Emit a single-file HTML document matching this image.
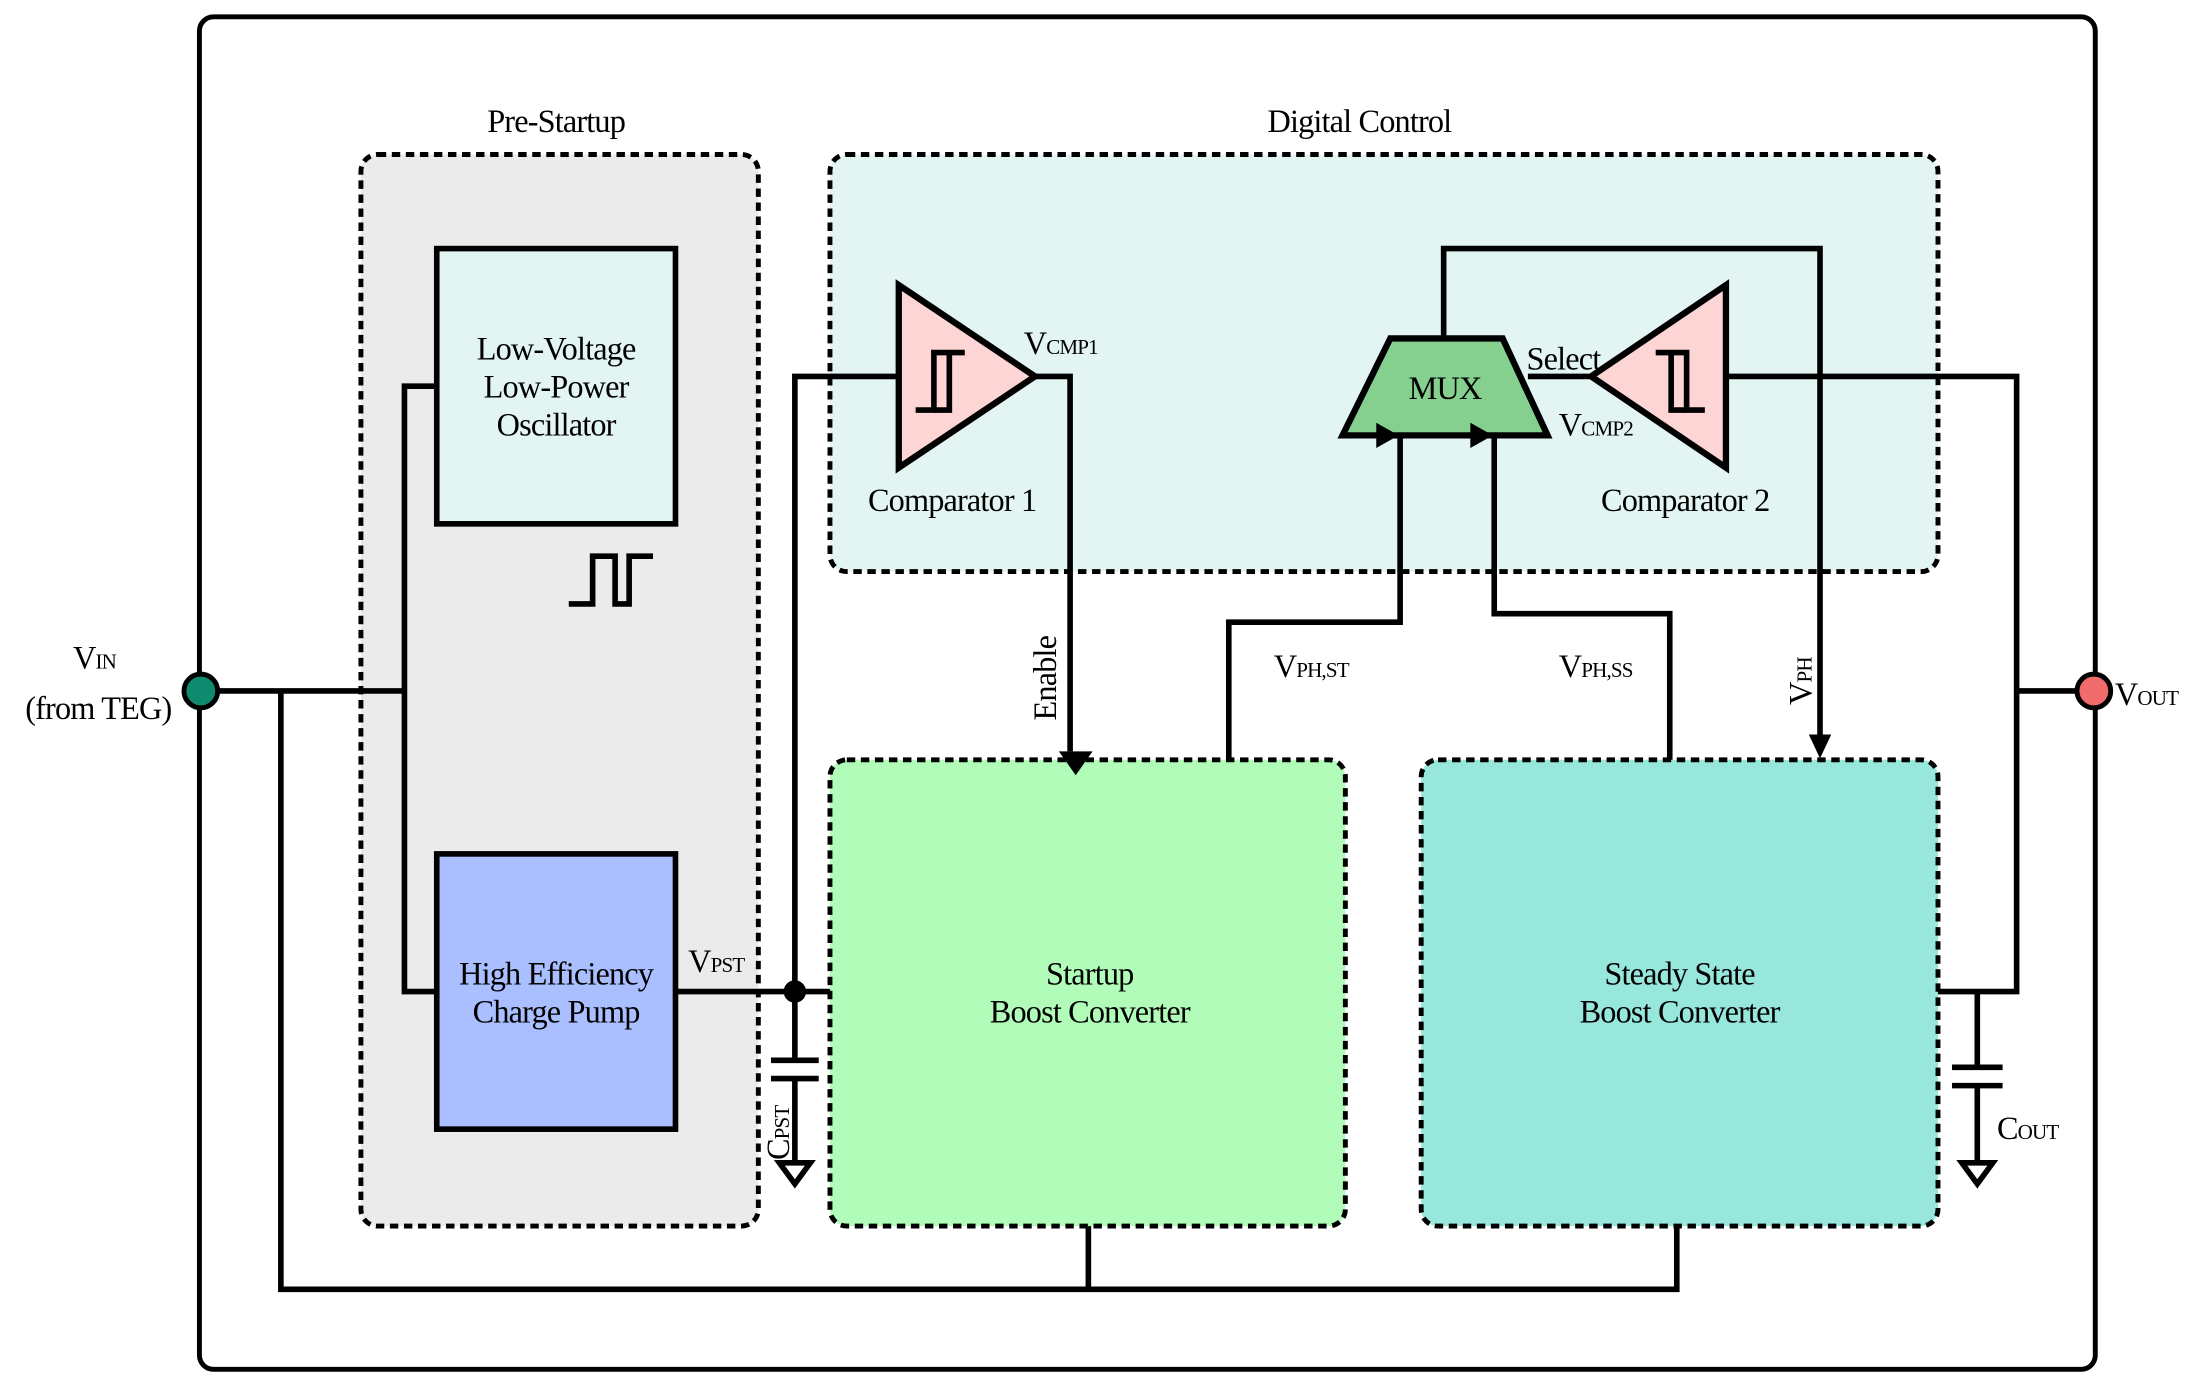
<!DOCTYPE html>
<html><head><meta charset="utf-8"><style>
html,body{margin:0;padding:0;background:#fff;}
svg{display:block;}
</style></head><body>
<svg width="2202" height="1396" viewBox="0 0 1568 994" preserveAspectRatio="none" xmlns="http://www.w3.org/2000/svg">
<g stroke="#000" stroke-width="4" fill="none">
<rect x="142" y="12" width="1350" height="963" rx="10" stroke-width="3.5"/>
<g stroke-dasharray="6,4" stroke-width="3.5">
<rect x="257" y="110" width="283" height="763" rx="12" fill="#ebebeb"/>
<rect x="591" y="110" width="789" height="297" rx="12" fill="#e2f5f2"/>
<rect x="591" y="541" width="367" height="332" rx="12" fill="#b0fcb8"/>
<rect x="1012" y="541" width="368" height="332" rx="12" fill="#97e7dd"/>
</g>
<rect x="311" y="177" width="170" height="196" fill="#e2f5f2"/>
<rect x="311" y="608" width="170" height="196" fill="#a9bfff"/>
<polyline points="405,430 422,430 422,396 438,396 438,430 448,430 448,396 465,396"/>
<polyline points="155,492 288,492"/>
<polyline points="311,275 288,275 288,706 311,706"/>
<polyline points="200,492 200,918 1194,918 1194,873"/>
<line x1="775" y1="918" x2="775" y2="873"/>
<line x1="481" y1="706" x2="591" y2="706"/>
<polyline points="640,268 566,268 566,755"/>
<line x1="549" y1="755" x2="583" y2="755"/>
<line x1="549" y1="768" x2="583" y2="768"/>
<line x1="566" y1="768" x2="566" y2="828"/>
<polygon points="555,828 577,828 566,843"/>
<polygon points="640,203 640,333 737,268" fill="#fdd5d5" stroke-width="4.5"/>
<polyline points="652,292 665,292 665,251 687,251" />
<polyline points="676,251 676,292 665,292"/>
<polyline points="737,268 762,268 762,535"/>
<polygon points="1229,203 1229,333 1133,268" fill="#fdd5d5" stroke-width="4.5"/>
<polyline points="1214,292 1201,292 1201,251 1179,251"/>
<polyline points="1190,251 1190,292 1201,292"/>
<polyline points="1229,268 1436,268 1436,706 1380,706"/>
<line x1="1436" y1="492" x2="1479" y2="492"/>
<line x1="1408" y1="706" x2="1408" y2="760"/>
<line x1="1390" y1="760" x2="1426" y2="760"/>
<line x1="1390" y1="773" x2="1426" y2="773"/>
<line x1="1408" y1="773" x2="1408" y2="828"/>
<polygon points="1397,828 1419,828 1408,843"/>
<polygon points="990,241 1070,241 1102,310 956,310" fill="#86d08f" stroke-width="4.5"/>
<line x1="1088" y1="268" x2="1133" y2="268"/>
<polyline points="1028,241 1028,177 1296,177 1296,535"/>
<polyline points="875,541 875,443 997,443 997,310"/>
<polyline points="1189,541 1189,437 1064,437 1064,310"/>
</g>
<g fill="#000">
<polygon points="754,535 778,535 766,552"/>
<polygon points="1288,523 1304,523 1296,540"/>
<polygon points="980,301 980,319 996,310"/>
<polygon points="1047,301 1047,319 1063,310"/>
<circle cx="566" cy="706" r="8"/>
</g>
<circle cx="143" cy="492" r="12" fill="#0e8a6e" stroke="#000" stroke-width="3.5"/>
<circle cx="1491" cy="492" r="12" fill="#f26b6b" stroke="#000" stroke-width="3.5"/>
<g font-family="'Liberation Serif', 'DejaVu Serif', serif" font-size="23" letter-spacing="-0.6" text-anchor="middle" fill="#000">
<text x="396" y="94">Pre-Startup</text>
<text x="968" y="94">Digital Control</text>
<text x="396" y="256">Low-Voltage</text>
<text x="396" y="283">Low-Power</text>
<text x="396" y="310">Oscillator</text>
<text x="396" y="701">High Efficiency</text>
<text x="396" y="728">Charge Pump</text>
<text x="776" y="701">Startup</text>
<text x="776" y="728">Boost Converter</text>
<text x="1196" y="701">Steady State</text>
<text x="1196" y="728">Boost Converter</text>
<text x="678" y="364">Comparator 1</text>
<text x="1200" y="364">Comparator 2</text>
<text x="1029" y="284">MUX</text>
<text x="70" y="512">(from TEG)</text>
</g>
<g font-family="'Liberation Serif', 'DejaVu Serif', serif" font-size="23" letter-spacing="-0.6" fill="#000">
<text x="52" y="476">V<tspan font-size="15">IN</tspan></text>
<text x="1506" y="502">V<tspan font-size="15">OUT</tspan></text>
<text x="729" y="252">V<tspan font-size="15">CMP1</tspan></text>
<text x="1110" y="310">V<tspan font-size="15">CMP2</tspan></text>
<text x="1087" y="263">Select</text>
<text x="490" y="692">V<tspan font-size="15">PST</tspan></text>
<text x="907" y="482">V<tspan font-size="15">PH,ST</tspan></text>
<text x="1110" y="482">V<tspan font-size="15">PH,SS</tspan></text>
<text x="1422" y="811">C<tspan font-size="15">OUT</tspan></text>
<text transform="translate(752,513) rotate(-90)">Enable</text>
<text transform="translate(1290,502) rotate(-90)">V<tspan font-size="15">PH</tspan></text>
<text transform="translate(562,826) rotate(-90)">C<tspan font-size="15">PST</tspan></text>
</g>
</svg>
</body></html>
